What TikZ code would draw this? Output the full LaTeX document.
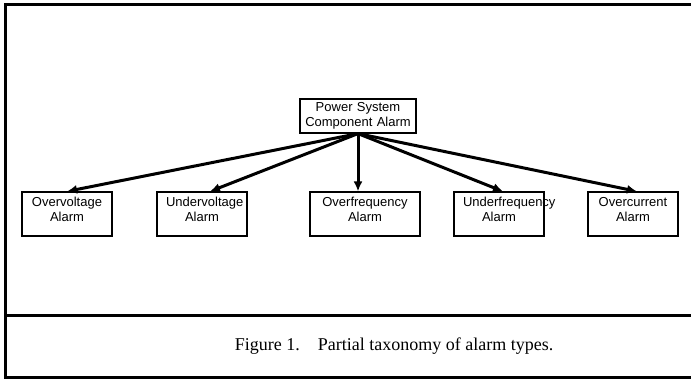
\documentclass[tikz,border=0pt]{standalone}
\usepackage{fontspec}
\setmainfont{Liberation Serif}
\newfontfamily\boxfont{Liberation Sans}
\usetikzlibrary{arrows.meta,calc}

\begin{document}
\begin{tikzpicture}[x=1pt,y=-1pt,
    alarmbox/.style={draw, line width=1.2pt, font=\boxfont\fontsize{13}{15}\selectfont,
      align=center, inner xsep=9pt, inner ysep=0pt, minimum height=44, text width=72},
    leaf/.style={alarmbox, execute at end node={\endgraf\vspace*{9pt}}},
    feed/.style={-{Latex[length=10pt,width=9pt]}, line width=3pt}]
        \useasboundingbox (0,0) rectangle (691,380);
        % frame and caption row
        \draw[line width=3pt] (700,4) -- (5,4) -- (5,377) -- (700,377);
        \draw[line width=3pt] (5,315) -- (700,315);
        \node[font=\fontsize{18}{21}\selectfont] (cap) at (394,346)
          {Figure 1.\quad Partial taxonomy of alarm types.};
        % root
        \node[alarmbox, inner xsep=5pt, minimum height=34, text width=106] (root) at (358,116)
          {Power System\\Component Alarm};
        % leaves
        \node[leaf] (ov) at (67,214)  {Overvoltage\\Alarm};
        \node[leaf] (uv) at (202,214) {Undervoltage\\Alarm};
        \node[leaf, text width=92] (of) at (365,214) {Overfrequency\\Alarm};
        \node[leaf] (uf) at (499,214) {Underfrequency\\Alarm};
        \node[leaf] (oc) at (633,214) {Overcurrent\\Alarm};
        % arrows
        \draw[feed] (root.south) -- (ov.north);
        \draw[feed] (root.south) -- ($(uv.north)+(8,0)$);
        \draw[feed] (root.south) -- (root.south |- of.north);
        \draw[feed] (root.south) -- ($(uf.north)+(4,0)$);
        \draw[feed] (root.south) -- ($(oc.north)+(4,0)$);
      \end{tikzpicture}
\end{document}
